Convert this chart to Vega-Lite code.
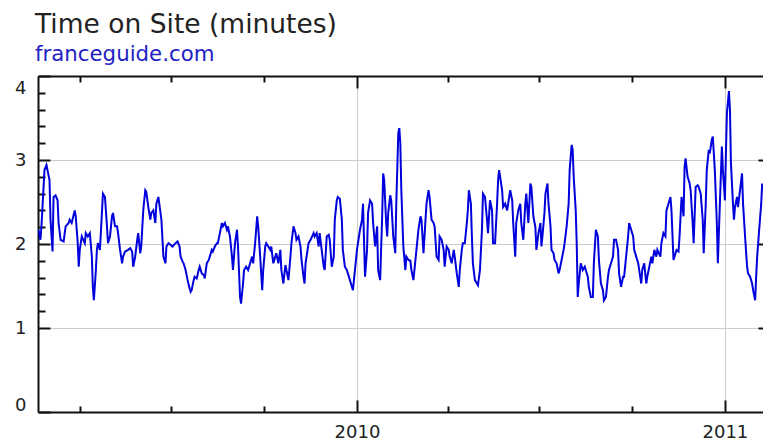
{
"$schema":"https://vega.github.io/schema/vega-lite/v6.json",
"width":725,"height":336,
"autosize":{"type":"none"},
"padding":{"left":38,"top":76,"right":0,"bottom":29},
"background":"#ffffff",
"config":{"view":{"stroke":null},"font":"DejaVu Sans"},
"title":{"text":"Time on Site (minutes)","subtitle":"franceguide.com","anchor":"start","frame":"group","dx":-3,"offset":10,"font":"DejaVu Sans","fontSize":26.5,"fontWeight":"normal","color":"#222222","subtitleFont":"DejaVu Sans","subtitleFontSize":21.3,"subtitleColor":"#2222c4","subtitlePadding":5},
"data":{"format":{"parse":{"d":"date:'%Y-%j'"}},"values":[
{"d":"2009-050","v":2.17},{"d":"2009-052","v":2.05},{"d":"2009-053","v":2.21},{"d":"2009-056","v":2.88},{"d":"2009-058","v":2.94},{"d":"2009-061","v":2.76},{"d":"2009-062","v":2.29},{"d":"2009-064","v":1.91},{"d":"2009-065","v":2.56},{"d":"2009-067","v":2.58},{"d":"2009-069","v":2.52},{"d":"2009-070","v":2.25},{"d":"2009-072","v":2.05},{"d":"2009-075","v":2.03},{"d":"2009-077","v":2.21},{"d":"2009-080","v":2.25},{"d":"2009-081","v":2.29},{"d":"2009-083","v":2.25},{"d":"2009-086","v":2.40},{"d":"2009-087","v":2.33},{"d":"2009-089","v":2.01},{"d":"2009-090","v":1.73},{"d":"2009-091","v":1.93},{"d":"2009-093","v":2.09},{"d":"2009-096","v":2.01},{"d":"2009-097","v":2.13},{"d":"2009-099","v":2.09},{"d":"2009-101","v":2.13},{"d":"2009-103","v":1.85},{"d":"2009-104","v":1.49},{"d":"2009-105","v":1.33},{"d":"2009-107","v":1.69},{"d":"2009-108","v":1.93},{"d":"2009-109","v":2.01},{"d":"2009-111","v":1.93},{"d":"2009-113","v":2.37},{"d":"2009-114","v":2.60},{"d":"2009-116","v":2.56},{"d":"2009-118","v":2.21},{"d":"2009-119","v":2.01},{"d":"2009-121","v":2.09},{"d":"2009-123","v":2.33},{"d":"2009-124","v":2.37},{"d":"2009-126","v":2.21},{"d":"2009-128","v":2.21},{"d":"2009-129","v":2.13},{"d":"2009-131","v":1.93},{"d":"2009-133","v":1.77},{"d":"2009-134","v":1.85},{"d":"2009-136","v":1.91},{"d":"2009-139","v":1.93},{"d":"2009-141","v":1.95},{"d":"2009-143","v":1.91},{"d":"2009-144","v":1.73},{"d":"2009-146","v":1.85},{"d":"2009-148","v":2.05},{"d":"2009-149","v":2.13},{"d":"2009-151","v":1.89},{"d":"2009-152","v":1.97},{"d":"2009-154","v":2.40},{"d":"2009-156","v":2.64},{"d":"2009-157","v":2.62},{"d":"2009-159","v":2.44},{"d":"2009-161","v":2.29},{"d":"2009-162","v":2.37},{"d":"2009-164","v":2.40},{"d":"2009-166","v":2.25},{"d":"2009-167","v":2.48},{"d":"2009-169","v":2.56},{"d":"2009-172","v":2.29},{"d":"2009-174","v":1.85},{"d":"2009-176","v":1.77},{"d":"2009-177","v":1.97},{"d":"2009-179","v":2.01},{"d":"2009-181","v":1.99},{"d":"2009-183","v":1.97},{"d":"2009-186","v":2.01},{"d":"2009-188","v":2.03},{"d":"2009-190","v":1.97},{"d":"2009-191","v":1.85},{"d":"2009-193","v":1.79},{"d":"2009-194","v":1.77},{"d":"2009-196","v":1.69},{"d":"2009-198","v":1.57},{"d":"2009-200","v":1.47},{"d":"2009-201","v":1.43},{"d":"2009-202","v":1.45},{"d":"2009-204","v":1.57},{"d":"2009-205","v":1.61},{"d":"2009-207","v":1.59},{"d":"2009-209","v":1.69},{"d":"2009-210","v":1.73},{"d":"2009-212","v":1.65},{"d":"2009-214","v":1.63},{"d":"2009-215","v":1.59},{"d":"2009-217","v":1.77},{"d":"2009-219","v":1.81},{"d":"2009-220","v":1.85},{"d":"2009-222","v":1.93},{"d":"2009-223","v":1.91},{"d":"2009-225","v":1.97},{"d":"2009-227","v":2.01},{"d":"2009-228","v":2.01},{"d":"2009-230","v":2.13},{"d":"2009-232","v":2.25},{"d":"2009-233","v":2.21},{"d":"2009-235","v":2.25},{"d":"2009-237","v":2.17},{"d":"2009-238","v":2.21},{"d":"2009-240","v":2.09},{"d":"2009-242","v":1.85},{"d":"2009-243","v":1.69},{"d":"2009-245","v":2.01},{"d":"2009-247","v":2.17},{"d":"2009-248","v":1.97},{"d":"2009-250","v":1.37},{"d":"2009-251","v":1.29},{"d":"2009-253","v":1.53},{"d":"2009-254","v":1.69},{"d":"2009-256","v":1.73},{"d":"2009-258","v":1.69},{"d":"2009-260","v":1.77},{"d":"2009-262","v":1.85},{"d":"2009-263","v":1.77},{"d":"2009-265","v":2.01},{"d":"2009-267","v":2.33},{"d":"2009-268","v":2.21},{"d":"2009-270","v":1.85},{"d":"2009-272","v":1.45},{"d":"2009-273","v":1.69},{"d":"2009-275","v":1.97},{"d":"2009-276","v":2.01},{"d":"2009-278","v":1.97},{"d":"2009-280","v":1.93},{"d":"2009-281","v":1.97},{"d":"2009-283","v":1.77},{"d":"2009-285","v":1.85},{"d":"2009-286","v":1.89},{"d":"2009-288","v":1.77},{"d":"2009-290","v":1.93},{"d":"2009-291","v":1.69},{"d":"2009-293","v":1.53},{"d":"2009-295","v":1.75},{"d":"2009-296","v":1.69},{"d":"2009-298","v":1.57},{"d":"2009-300","v":1.85},{"d":"2009-301","v":2.01},{"d":"2009-303","v":2.21},{"d":"2009-305","v":2.13},{"d":"2009-306","v":2.05},{"d":"2009-308","v":2.09},{"d":"2009-310","v":1.97},{"d":"2009-311","v":1.81},{"d":"2009-313","v":1.61},{"d":"2009-314","v":1.53},{"d":"2009-315","v":1.77},{"d":"2009-317","v":1.93},{"d":"2009-318","v":2.01},{"d":"2009-320","v":2.05},{"d":"2009-323","v":2.13},{"d":"2009-324","v":2.09},{"d":"2009-326","v":2.13},{"d":"2009-328","v":1.97},{"d":"2009-329","v":2.13},{"d":"2009-331","v":1.93},{"d":"2009-333","v":1.73},{"d":"2009-334","v":1.69},{"d":"2009-336","v":2.09},{"d":"2009-338","v":2.11},{"d":"2009-339","v":2.05},{"d":"2009-341","v":1.73},{"d":"2009-343","v":1.85},{"d":"2009-344","v":2.29},{"d":"2009-346","v":2.52},{"d":"2009-347","v":2.56},{"d":"2009-349","v":2.54},{"d":"2009-351","v":2.29},{"d":"2009-352","v":1.93},{"d":"2009-354","v":1.73},{"d":"2009-356","v":1.69},{"d":"2009-357","v":1.65},{"d":"2009-359","v":1.57},{"d":"2009-361","v":1.49},{"d":"2009-362","v":1.45},{"d":"2009-364","v":1.69},
{"d":"2010-001","v":1.93},{"d":"2010-002","v":2.01},{"d":"2010-004","v":2.17},{"d":"2010-006","v":2.29},{"d":"2010-007","v":2.48},{"d":"2010-009","v":1.61},{"d":"2010-011","v":1.93},{"d":"2010-012","v":2.37},{"d":"2010-014","v":2.52},{"d":"2010-016","v":2.48},{"d":"2010-017","v":2.25},{"d":"2010-019","v":1.97},{"d":"2010-021","v":2.21},{"d":"2010-022","v":1.69},{"d":"2010-024","v":1.57},{"d":"2010-026","v":2.33},{"d":"2010-027","v":2.84},{"d":"2010-028","v":2.76},{"d":"2010-030","v":2.25},{"d":"2010-031","v":2.09},{"d":"2010-032","v":2.37},{"d":"2010-034","v":2.58},{"d":"2010-035","v":2.52},{"d":"2010-037","v":2.09},{"d":"2010-039","v":1.89},{"d":"2010-040","v":2.48},{"d":"2010-042","v":3.32},{"d":"2010-043","v":3.38},{"d":"2010-044","v":3.20},{"d":"2010-045","v":2.64},{"d":"2010-047","v":1.97},{"d":"2010-049","v":1.69},{"d":"2010-050","v":1.85},{"d":"2010-052","v":1.81},{"d":"2010-054","v":1.80},{"d":"2010-055","v":1.69},{"d":"2010-057","v":1.57},{"d":"2010-059","v":1.81},{"d":"2010-060","v":1.93},{"d":"2010-062","v":2.17},{"d":"2010-064","v":2.33},{"d":"2010-065","v":2.29},{"d":"2010-067","v":1.89},{"d":"2010-069","v":2.29},{"d":"2010-070","v":2.48},{"d":"2010-072","v":2.64},{"d":"2010-073","v":2.56},{"d":"2010-075","v":2.29},{"d":"2010-077","v":2.25},{"d":"2010-078","v":2.21},{"d":"2010-080","v":1.85},{"d":"2010-082","v":1.81},{"d":"2010-083","v":2.09},{"d":"2010-085","v":2.05},{"d":"2010-087","v":1.93},{"d":"2010-088","v":1.73},{"d":"2010-090","v":1.97},{"d":"2010-092","v":1.93},{"d":"2010-093","v":1.85},{"d":"2010-095","v":1.77},{"d":"2010-097","v":1.93},{"d":"2010-098","v":1.85},{"d":"2010-100","v":1.65},{"d":"2010-102","v":1.49},{"d":"2010-103","v":1.69},{"d":"2010-105","v":1.93},{"d":"2010-106","v":2.01},{"d":"2010-108","v":2.01},{"d":"2010-110","v":2.25},{"d":"2010-111","v":2.40},{"d":"2010-112","v":2.64},{"d":"2010-114","v":2.48},{"d":"2010-115","v":2.09},{"d":"2010-116","v":1.77},{"d":"2010-118","v":1.57},{"d":"2010-120","v":1.53},{"d":"2010-121","v":1.51},{"d":"2010-123","v":1.69},{"d":"2010-125","v":2.17},{"d":"2010-126","v":2.60},{"d":"2010-128","v":2.56},{"d":"2010-130","v":2.29},{"d":"2010-131","v":2.13},{"d":"2010-133","v":2.52},{"d":"2010-135","v":2.40},{"d":"2010-136","v":2.01},{"d":"2010-138","v":2.01},{"d":"2010-140","v":2.48},{"d":"2010-141","v":2.76},{"d":"2010-142","v":2.88},{"d":"2010-144","v":2.72},{"d":"2010-145","v":2.64},{"d":"2010-146","v":2.44},{"d":"2010-148","v":2.48},{"d":"2010-150","v":2.40},{"d":"2010-151","v":2.48},{"d":"2010-153","v":2.64},{"d":"2010-155","v":2.52},{"d":"2010-156","v":2.25},{"d":"2010-158","v":1.85},{"d":"2010-159","v":2.25},{"d":"2010-161","v":2.40},{"d":"2010-163","v":2.48},{"d":"2010-164","v":2.25},{"d":"2010-166","v":2.05},{"d":"2010-168","v":2.48},{"d":"2010-169","v":2.60},{"d":"2010-171","v":2.25},{"d":"2010-173","v":2.72},{"d":"2010-174","v":2.68},{"d":"2010-176","v":2.33},{"d":"2010-178","v":2.20},{"d":"2010-179","v":1.93},{"d":"2010-181","v":2.13},{"d":"2010-183","v":2.25},{"d":"2010-184","v":1.97},{"d":"2010-185","v":2.09},{"d":"2010-187","v":2.37},{"d":"2010-188","v":2.60},{"d":"2010-190","v":2.72},{"d":"2010-191","v":2.48},{"d":"2010-193","v":2.21},{"d":"2010-194","v":1.93},{"d":"2010-196","v":1.89},{"d":"2010-197","v":1.81},{"d":"2010-199","v":1.77},{"d":"2010-201","v":1.65},{"d":"2010-202","v":1.69},{"d":"2010-204","v":1.81},{"d":"2010-206","v":1.93},{"d":"2010-207","v":2.01},{"d":"2010-209","v":2.21},{"d":"2010-211","v":2.48},{"d":"2010-212","v":2.88},{"d":"2010-214","v":3.18},{"d":"2010-215","v":3.12},{"d":"2010-216","v":2.80},{"d":"2010-218","v":2.40},{"d":"2010-219","v":2.01},{"d":"2010-220","v":1.37},{"d":"2010-221","v":1.53},{"d":"2010-223","v":1.77},{"d":"2010-225","v":1.69},{"d":"2010-227","v":1.73},{"d":"2010-228","v":1.69},{"d":"2010-230","v":1.61},{"d":"2010-231","v":1.49},{"d":"2010-233","v":1.37},{"d":"2010-235","v":1.37},{"d":"2010-236","v":1.77},{"d":"2010-238","v":2.17},{"d":"2010-240","v":2.09},{"d":"2010-241","v":1.81},{"d":"2010-243","v":1.53},{"d":"2010-245","v":1.45},{"d":"2010-246","v":1.33},{"d":"2010-248","v":1.37},{"d":"2010-250","v":1.61},{"d":"2010-251","v":1.69},{"d":"2010-253","v":1.77},{"d":"2010-255","v":1.85},{"d":"2010-256","v":2.05},{"d":"2010-258","v":2.05},{"d":"2010-260","v":1.93},{"d":"2010-261","v":1.65},{"d":"2010-263","v":1.49},{"d":"2010-265","v":1.61},{"d":"2010-266","v":1.61},{"d":"2010-268","v":1.85},{"d":"2010-270","v":2.09},{"d":"2010-271","v":2.25},{"d":"2010-273","v":2.17},{"d":"2010-275","v":2.09},{"d":"2010-276","v":1.93},{"d":"2010-278","v":1.85},{"d":"2010-280","v":1.77},{"d":"2010-281","v":1.69},{"d":"2010-283","v":1.53},{"d":"2010-284","v":1.69},{"d":"2010-286","v":1.77},{"d":"2010-288","v":1.53},{"d":"2010-289","v":1.61},{"d":"2010-291","v":1.73},{"d":"2010-293","v":1.85},{"d":"2010-294","v":1.77},{"d":"2010-296","v":1.93},{"d":"2010-298","v":1.85},{"d":"2010-299","v":1.93},{"d":"2010-302","v":1.85},{"d":"2010-303","v":2.01},{"d":"2010-305","v":2.13},{"d":"2010-307","v":2.09},{"d":"2010-308","v":2.40},{"d":"2010-310","v":2.48},{"d":"2010-312","v":2.56},{"d":"2010-313","v":2.40},{"d":"2010-315","v":1.81},{"d":"2010-317","v":1.89},{"d":"2010-318","v":1.93},{"d":"2010-320","v":1.91},{"d":"2010-321","v":2.09},{"d":"2010-323","v":2.56},{"d":"2010-325","v":2.33},{"d":"2010-326","v":2.92},{"d":"2010-327","v":3.02},{"d":"2010-329","v":2.80},{"d":"2010-331","v":2.72},{"d":"2010-332","v":2.64},{"d":"2010-334","v":2.25},{"d":"2010-335","v":2.01},{"d":"2010-337","v":2.68},{"d":"2010-339","v":2.70},{"d":"2010-340","v":2.68},{"d":"2010-342","v":2.60},{"d":"2010-344","v":2.29},{"d":"2010-345","v":1.89},{"d":"2010-347","v":2.48},{"d":"2010-348","v":2.88},{"d":"2010-350","v":3.12},{"d":"2010-351","v":3.08},{"d":"2010-353","v":3.24},{"d":"2010-354","v":3.28},{"d":"2010-356","v":2.88},{"d":"2010-358","v":2.25},{"d":"2010-359","v":1.77},{"d":"2010-361","v":2.48},{"d":"2010-363","v":3.16},{"d":"2010-364","v":2.88},
{"d":"2011-001","v":2.52},{"d":"2011-002","v":3.08},{"d":"2011-003","v":3.56},{"d":"2011-005","v":3.82},{"d":"2011-006","v":3.60},{"d":"2011-007","v":2.96},{"d":"2011-009","v":2.48},{"d":"2011-010","v":2.29},{"d":"2011-011","v":2.44},{"d":"2011-013","v":2.56},{"d":"2011-014","v":2.44},{"d":"2011-016","v":2.64},{"d":"2011-018","v":2.84},{"d":"2011-019","v":2.48},{"d":"2011-021","v":2.09},{"d":"2011-023","v":1.73},{"d":"2011-024","v":1.65},{"d":"2011-026","v":1.61},{"d":"2011-028","v":1.53},{"d":"2011-029","v":1.45},{"d":"2011-031","v":1.33},{"d":"2011-032","v":1.61},{"d":"2011-033","v":1.85},{"d":"2011-035","v":2.17},{"d":"2011-037","v":2.48},{"d":"2011-038","v":2.72}
]},
"layer":[
{"mark":{"type":"line","color":"#0000dd","strokeWidth":2,"clip":true},
 "encoding":{
  "x":{"field":"d","type":"temporal","scale":{"domain":[{"year":2009,"month":2,"date":18,"hours":14},{"year":2011,"month":2,"date":7,"hours":19}]},
   "axis":{"orient":"bottom","title":null,"values":[{"year":2009,"month":4,"date":1},{"year":2009,"month":7,"date":1},{"year":2009,"month":10,"date":1},{"year":2010,"month":1,"date":1},{"year":2010,"month":4,"date":1},{"year":2010,"month":7,"date":1},{"year":2010,"month":10,"date":1},{"year":2011,"month":1,"date":1}],
   "labelExpr":"month(datum.value) == 0 ? timeFormat(datum.value, '%Y') : ''","labelFont":"DejaVu Sans","labelFontSize":18,"labelColor":"#222222","labelPadding":23,"labelFlush":false,"labelOverlap":false,
   "grid":true,"gridColor":"#cccccc","gridWidth":1,"gridOpacity":{"condition":{"test":"month(datum.value) == 0","value":1},"value":0},
   "tickSize":{"condition":{"test":"month(datum.value) == 0","value":-12},"value":-6},"tickColor":"#111111","tickWidth":2,
   "domainColor":"#111111","domainWidth":2}},
  "y":{"field":"v","type":"quantitative","scale":{"domain":[0,4],"nice":false},
   "axis":{"orient":"left","title":null,"values":[0,1,1.2,1.4,1.6,1.8,2,2.2,2.4,2.6,2.8,3,3.2,3.4,3.6,3.8,4],
   "labelExpr":"datum.value % 1 == 0 ? format(datum.value, 'd') : ''","labelFont":"DejaVu Sans","labelFontSize":18,"labelColor":"#222222","labelPadding":24,"labelFlush":false,"labelBaseline":"middle","labelOverlap":false,
   "labelOffset":{"condition":[{"test":"datum.value == 4","value":12},{"test":"datum.value == 0","value":-7}],"value":0},
   "grid":true,"gridColor":"#cccccc","gridWidth":1,"gridOpacity":{"condition":{"test":"datum.value % 1 == 0 && datum.value > 0 && datum.value < 4","value":1},"value":0},
   "tickSize":{"condition":{"test":"datum.value % 1 == 0","value":-12},"value":-7},"tickColor":"#111111","tickWidth":2,
   "domainColor":"#111111","domainWidth":2}}
 }},
{"mark":{"type":"line","strokeOpacity":0,"clip":true},
 "encoding":{
  "x":{"field":"d","type":"temporal","scale":{"domain":[{"year":2009,"month":2,"date":18,"hours":14},{"year":2011,"month":2,"date":7,"hours":19}]},
   "axis":{"orient":"top","title":null,"labels":false,"grid":false,"values":[{"year":2009,"month":4,"date":1},{"year":2009,"month":7,"date":1},{"year":2009,"month":10,"date":1},{"year":2010,"month":1,"date":1},{"year":2010,"month":4,"date":1},{"year":2010,"month":7,"date":1},{"year":2010,"month":10,"date":1},{"year":2011,"month":1,"date":1}],
   "tickSize":{"condition":{"test":"month(datum.value) == 0","value":-12},"value":-6},"tickColor":"#111111","tickWidth":2,"domainColor":"#111111","domainWidth":2}},
  "y":{"field":"v","type":"quantitative","scale":{"domain":[0,4],"nice":false},
   "axis":{"orient":"right","title":null,"labels":false,"grid":false,"domain":false,"values":[1,2,3],"tickSize":-5,"tickColor":"#111111","tickWidth":2}}
 }}
],
"resolve":{"scale":{"x":"independent","y":"independent"}}
}
